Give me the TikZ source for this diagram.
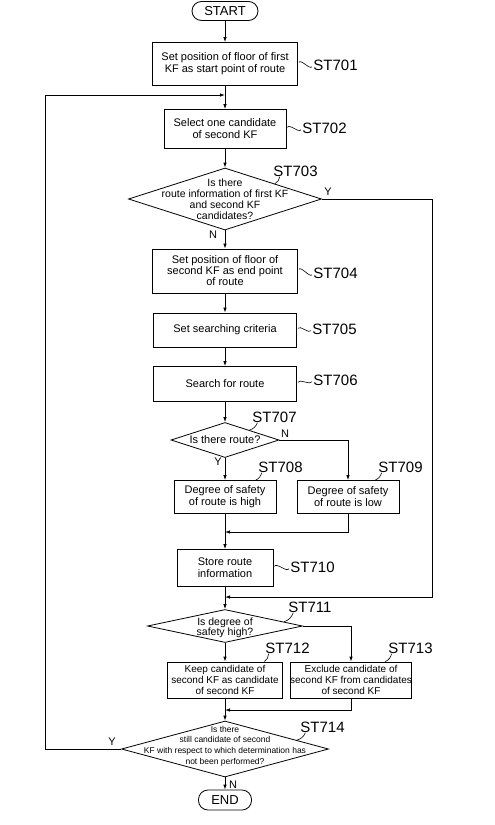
\documentclass[tikz,border=0pt]{standalone}
\usepackage{fontspec}
\setmainfont{Liberation Sans}
\usetikzlibrary{arrows.meta, shapes.geometric, calc}

\begin{document}
\begin{tikzpicture}[x=1pt, y=-1pt, line width=0.8pt,
    box/.style={draw, rectangle, align=center, inner sep=0pt, font=\fontsize{11}{12}\selectfont},
    term/.style={draw, rectangle, rounded corners=9.5pt, inner sep=0pt, minimum height=19pt, font=\fontsize{13}{13}\selectfont},
    dia/.style={draw, diamond, inner sep=0pt},
    dtxt/.style={align=center, inner sep=0pt, font=\fontsize{10.5}{11}\selectfont},
    stl/.style={anchor=west, inner sep=0pt, font=\fontsize{15}{15}\selectfont},
    yn/.style={inner sep=0pt, font=\fontsize{11}{11}\selectfont},
    arr/.style={-{Latex[length=5pt,width=3.5pt]}},
    tld/.style={shorten <=2pt, shorten >=2pt, line width=0.6pt},
    tick/.style={line width=0.6pt}]
    \useasboundingbox (0,0) rectangle (495,825);

    % 开始
    \node[term, minimum width=66pt] (start) at (225,11) {START};

    % 步骤
    \node[box, minimum width=145pt, minimum height=43pt] (b701) at (225,64) {Set position of floor of first\\KF as start point of route};
    \node[box, minimum width=122pt, minimum height=39pt] (b702) at (225,129) {Select one candidate\\of second KF};
    \node[dia, minimum width=193pt, minimum height=62pt] (d703) at (225,199) {};
    \node[dtxt] at (d703) {Is there\\route information of first KF\\and second KF\\candidates?};
    \node[box, minimum width=145pt, minimum height=44pt, font=\fontsize{11}{11}\selectfont] (b704) at (225,271) {Set position of floor of\\second KF as end point\\of route};
    \node[box, minimum width=143pt, minimum height=34pt] (b705) at (225,330) {Set searching criteria};
    \node[box, minimum width=143pt, minimum height=35pt] (b706) at (225,384) {Search for route};
    \node[dia, minimum width=108pt, minimum height=35pt] (d707) at (225,440) {};
    \node[dtxt, font=\fontsize{11}{11}\selectfont] at (d707) {Is there route?};
    \node[box, minimum width=102pt, minimum height=33pt] (b708) at (225,497) {Degree of safety\\of route is high};
    \node[box, minimum width=102pt, minimum height=33pt] (b709) at (348,497) {Degree of safety\\of route is low};
    \node[box, minimum width=96pt, minimum height=37pt] (b710) at (225,568) {Store route\\information};
    \node[dia, minimum width=155pt, minimum height=33pt] (d711) at (225,626) {};
    \node[dtxt, font=\fontsize{10.5}{10.5}\selectfont] at ($(d711)+(0,2)$) {Is degree of\\safety high?};
    \node[box, minimum width=115pt, minimum height=36pt, font=\fontsize{10}{11}\selectfont] (b712) at (225,680) {Keep candidate of\\second KF as candidate\\of second KF};
    \node[box, minimum width=121pt, minimum height=36pt, font=\fontsize{10}{11}\selectfont] (b713) at (351,680) {Exclude candidate of\\second KF from candidates\\of second KF};
    \node[dia, minimum width=207pt, minimum height=56pt] (d714) at (225,749) {};
    \node[dtxt, font=\fontsize{8.5}{10.7}\selectfont] at ($(d714)+(0,-3)$) {Is there\\still candidate of second\\KF with respect to which determination has\\not been performed?};

    % 结束
    \node[term, minimum width=53pt, minimum height=20pt] (end) at (225,800) {END};

    % 汇合点
    \coordinate (j0) at (225,95);
    \coordinate (j1) at (225,532);
    \coordinate (j2) at (225,597);
    \coordinate (j3) at (225,710);

    % 步骤编号
    \node[stl] (l701) at (313,65) {ST701};
    \node[stl] (l702) at (302,128) {ST702};
    \node[stl] (l703) at (273,171) {ST703};
    \node[stl] (l704) at (313,273) {ST704};
    \node[stl] (l705) at (312,329) {ST705};
    \node[stl] (l706) at (313,380) {ST706};
    \node[stl] (l707) at (252,417) {ST707};
    \node[stl] (l708) at (258,467) {ST708};
    \node[stl] (l709) at (378,467) {ST709};
    \node[stl] (l710) at (290,567) {ST710};
    \node[stl] (l711) at (288,607) {ST711};
    \node[stl] (l712) at (265,648) {ST712};
    \node[stl] (l713) at (388,648) {ST713};
    \node[stl] (l714) at (300,727) {ST714};

    \foreach \s in {701,702,704,705,706,710}
        \draw[tld] (b\s.east) to[out=60,in=240] (l\s.west);
    \draw[tick] ($(l703.south west)!0.15!(l703.south east)$) to[bend left=25] (d703.17);
    \draw[tick] ($(l707.south west)!0.12!(l707.south east)$) to[bend left=25] (d707.22);
    \draw[tick] ($(l711.south west)!0.12!(l711.south east)$) to[bend left=25] (d711.4);
    \draw[tick] ($(l714.south west)!0.12!(l714.south east)$) to[bend left=25] (d714.7);
    \draw[tick] ($(l708.south west)!0.08!(l708.south east)$) to[bend left=25] ($(b708.north)!0.6!(b708.north east)$);
    \draw[tick] ($(l709.south west)!0.08!(l709.south east)$) to[bend left=25] ($(b709.north)!0.53!(b709.north east)$);
    \draw[tick] ($(l712.south west)!0.08!(l712.south east)$) to[bend left=25] ($(b712.north)!0.68!(b712.north east)$);
    \draw[tick] ($(l713.south west)!0.08!(l713.south east)$) to[bend left=25] ($(b713.north)!0.56!(b713.north east)$);

    % 连线
    \draw[arr] (start) -- (b701);
    \draw[arr] (b701) -- (b702);
    \draw[arr] (b702) -- (d703);
    \draw[arr] (d703) -- (b704);
    \draw[arr] (b704) -- (b705);
    \draw[arr] (b705) -- (b706);
    \draw[arr] (b706) -- (d707);
    \draw[arr] (d707) -- (b708);
    \draw[arr] (d707.east) -| (b709.north);
    \draw[arr] (b708) -- (b710);
    \draw[arr] (b709.south) |- (j1);
    \draw[arr] (b710) -- (d711);
    \draw[arr] (d711) -- (b712);
    \draw[arr] (d711.east) -| (b713.north);
    \draw[arr] (b712) -- (d714);
    \draw[arr] (b713.south) |- (j3);
    \draw[arr] (d714) -- (end);
    \draw[arr] (d703.east) -- ++(110,0) |- (j2);
    \draw[arr] (d714.west) -- ++(-76,0) |- (j0);

    % Y / N
    \node[yn] (y703) at (328,192) {Y};
    \node[yn] (n703) at (213,235) {N};
    \node[yn] (n707) at (285,434) {N};
    \node[yn] (y707) at (218,462) {Y};
    \node[yn] (y714) at (112,742) {Y};
    \node[yn] (n714) at (233,785) {N};
\end{tikzpicture}
\end{document}
